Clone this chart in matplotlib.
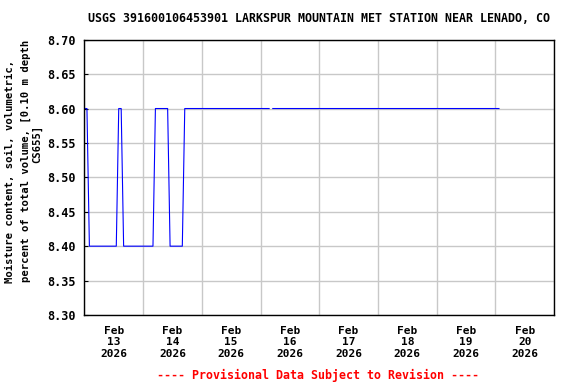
"""USGS soil moisture plot for Larkspur Mountain met station (Feb 13-20, 2026)."""

import matplotlib
matplotlib.use("Agg")
import matplotlib.pyplot as plt
import matplotlib.dates as mdates
import numpy as np
import pandas as pd

# hours since 2026-02-13 00:00, with the soil moisture value (NaN = data gap)
HOURS = [0.0, 1.0, 2.0, 13.0, 14.0, 15.0, 16.0, 28.0, 29.0, 34.0, 35.0,
         40.0, 41.0, 75.5, 76.2, 77.0, 169.5]
VALUES = [8.60, 8.60, 8.40, 8.40, 8.60, 8.60, 8.40, 8.40, 8.60, 8.60, 8.40,
          8.40, 8.60, 8.60, np.nan, 8.60, 8.60]

START = pd.Timestamp("2026-02-13")
END = pd.Timestamp("2026-02-21")
DAY_LABELS = ["Feb\n13\n2026", "Feb\n14\n2026", "Feb\n15\n2026", "Feb\n16\n2026",
              "Feb\n17\n2026", "Feb\n18\n2026", "Feb\n19\n2026", "Feb\n20\n2026"]
Y_TICKS = [8.30, 8.35, 8.40, 8.45, 8.50, 8.55, 8.60, 8.65, 8.70]

TITLE = "USGS 391600106453901 LARKSPUR MOUNTAIN MET STATION NEAR LENADO, CO"
YLABEL_LINES = ["Moisture content, soil, volumetric,",
                "percent of total volume, [0.10 m depth",
                "CS655]"]
FOOTER = "---- Provisional Data Subject to Revision ----"

FONT = "DejaVu Sans Mono"

times = START + pd.to_timedelta(HOURS, unit="h")

fig = plt.figure(figsize=(5.76, 3.84), dpi=100)
ax = fig.add_axes([0.1467, 0.1797, 0.8151, 0.7169])

ax.plot(times, VALUES, color="#0000ff", linewidth=0.8)

ax.set_xlim(START, END)
ax.set_ylim(8.30, 8.70)

# gridlines at midnight, labels at noon
midnights = pd.date_range(START, END, freq="D")
noons = pd.date_range(START + pd.Timedelta(hours=12), periods=len(DAY_LABELS), freq="D")
ax.set_xticks(mdates.date2num(midnights))
ax.set_xticklabels([])
ax.set_xticks(mdates.date2num(noons), minor=True)
ax.set_xticklabels(DAY_LABELS, minor=True, fontfamily=FONT, fontweight="bold",
                   fontsize=8, linespacing=1.15)
ax.tick_params(axis="x", which="both", length=0, pad=8)

ax.set_yticks(Y_TICKS)
ax.set_yticklabels([f"{v:.2f}" for v in Y_TICKS], fontfamily=FONT,
                   fontweight="bold", fontsize=8.5)
ax.tick_params(axis="y", direction="in", length=3, width=0.8, pad=6)

ax.grid(True, which="major", color="#c8c8c8", linewidth=1.0)
ax.set_axisbelow(True)
for sp in ax.spines.values():
    sp.set_linewidth(1.0)
    sp.set_color("black")

fig.text(318.5 / 576, 0.951, TITLE, ha="center", va="center", fontfamily=FONT,
         fontweight="bold", fontsize=8.35)

ylab_x = [10.5, 25.5, 37.0]
ylab_y = [171.5, 161.0, 143.5]
for txt, px, py in zip(YLABEL_LINES, ylab_x, ylab_y):
    fig.text(px / 576, 1 - py / 384, txt, rotation=90, ha="center", va="center",
             fontfamily=FONT, fontweight="bold", fontsize=7.6)

fig.text(318 / 576, 1 - 375 / 384, FOOTER, ha="center", va="center",
         fontfamily=FONT, fontweight="bold", fontsize=8.4, color="#ff0000")

fig.savefig("out.png", dpi=100)
plt.close(fig)
